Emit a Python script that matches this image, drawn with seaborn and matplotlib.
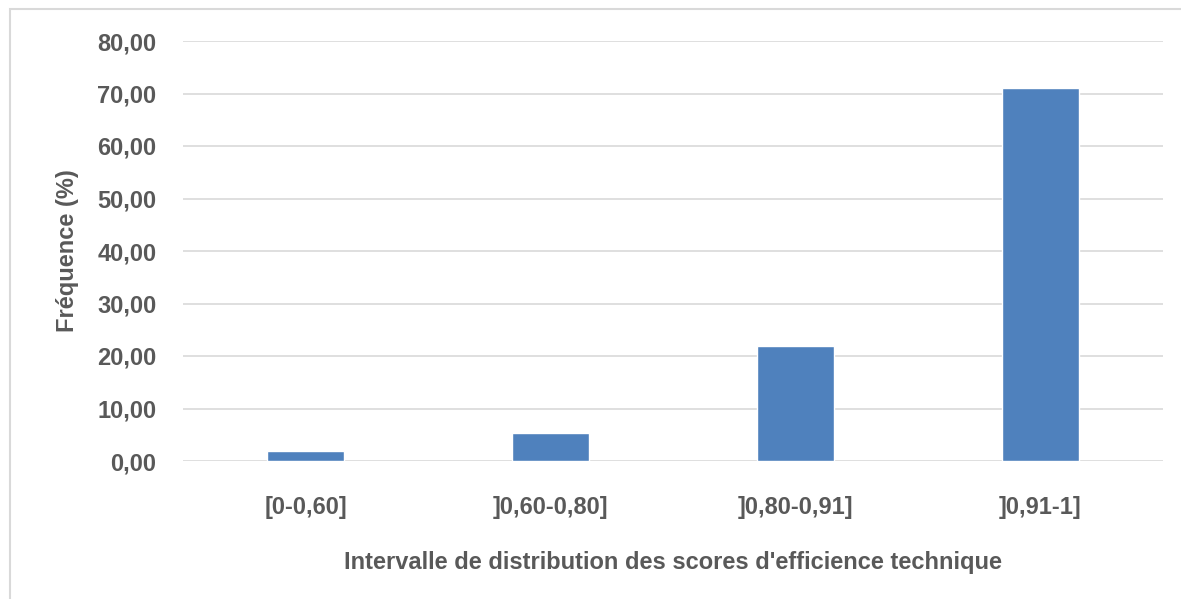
import numpy as np
import pandas as pd
import seaborn as sns
import matplotlib.pyplot as plt
from matplotlib.patches import Rectangle
from matplotlib.ticker import FuncFormatter

# values
intervals = ['[0-0,60]', ']0,60-0,80]', ']0,80-0,91]', ']0,91-1]']
frequences = [1.9, 5.35, 21.9, 71.05]
y_ticks = [0, 10, 20, 30, 40, 50, 60, 70, 80]

df = pd.DataFrame({'Intervalle': intervals, 'Frequence': frequences})

sns.set_theme(style='white')
plt.rcParams['font.family'] = ['Liberation Sans', 'DejaVu Sans']
plt.rcParams['font.weight'] = 'bold'

grey = '#595959'

fig = plt.figure(figsize=(11.81, 5.99), dpi=100)
ax = fig.add_axes([183 / 1181, 1 - 461 / 599, 980 / 1181, 420 / 599])

sns.barplot(data=df, x='Intervalle', y='Frequence', color='#4F81BD',
            saturation=1, width=0.315, ax=ax)

ax.set_ylim(0, 80)
ax.set_yticks(y_ticks)
ax.yaxis.set_major_formatter(FuncFormatter(lambda v, p: f'{v:.2f}'.replace('.', ',')))
ax.grid(axis='y', color='#D9D9D9', linewidth=1.2)
ax.set_axisbelow(True)
for s in ax.spines.values():
    s.set_visible(False)
ax.tick_params(axis='both', length=0, labelsize=17, labelcolor=grey)
ax.tick_params(axis='y', pad=19)
ax.tick_params(axis='x', pad=25)
for lbl in ax.get_xticklabels() + ax.get_yticklabels():
    lbl.set_fontweight('bold')

ax.set_xlabel("Intervalle de distribution des scores d'efficience technique",
              fontsize=17, color=grey, fontweight='bold', labelpad=23)
ax.set_ylabel('Fréquence (%)', fontsize=17, color=grey, fontweight='bold', labelpad=13)

# light frame around the chart area like the original export
fig.patches.append(Rectangle((10 / 1181, -0.05), 1.2, 1 - 9 / 599 + 0.05,
                             transform=fig.transFigure, fill=False,
                             edgecolor='#D9D9D9', linewidth=1.5))

fig.savefig('out.png', dpi=100)
